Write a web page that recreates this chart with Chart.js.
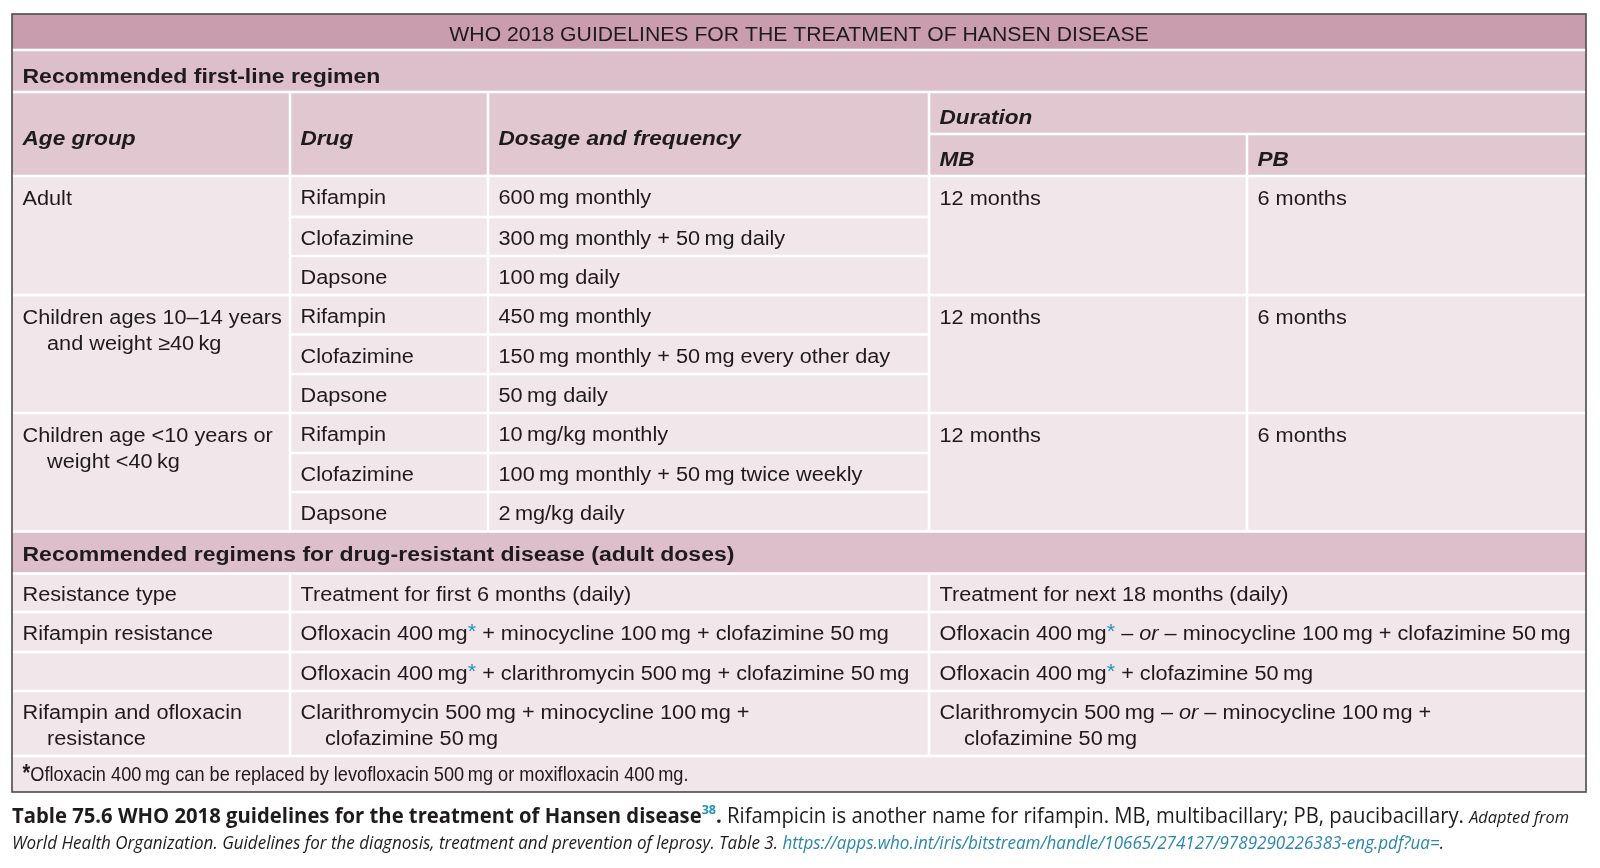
<!DOCTYPE html>
<html><head><meta charset="utf-8">
<script src="https://cdn.jsdelivr.net/npm/chart.js@4.4.1/dist/chart.umd.min.js"></script>
<style>html,body{margin:0;padding:0;background:#fff;overflow:hidden}canvas{display:block}</style>
</head><body><canvas id="c" width="1600" height="868"></canvas>
<script>
// ---------------- DATA ----------------
const tableTitle = "WHO 2018 GUIDELINES FOR THE TREATMENT OF HANSEN DISEASE";
const section1Label = "Recommended first-line regimen";
const headerLabels = ["Age group", "Drug", "Dosage and frequency"];
const durationLabel = "Duration";
const durationSubLabels = ["MB", "PB"];
const ageGroups = ["Adult", "Children ages 10–14 years\nand weight ≥40 kg", "Children age <10 years or\nweight <40 kg"];
const drugs = ["Rifampin", "Clofazimine", "Dapsone"];
const dosages = [
  ["600 mg monthly", "300 mg monthly + 50 mg daily", "100 mg daily"],
  ["450 mg monthly", "150 mg monthly + 50 mg every other day", "50 mg daily"],
  ["10 mg/kg monthly", "100 mg monthly + 50 mg twice weekly", "2 mg/kg daily"]
];
const durationMB = ["12 months", "12 months", "12 months"];
const durationPB = ["6 months", "6 months", "6 months"];
const section2Label = "Recommended regimens for drug-resistant disease (adult doses)";
const resistanceHeader = ["Resistance type", "Treatment for first 6 months (daily)", "Treatment for next 18 months (daily)"];
const resistanceTypes = ["Rifampin resistance", "", "Rifampin and ofloxacin\nresistance"];
const firstSixMonths = [
  "Ofloxacin 400 mg* + minocycline 100 mg + clofazimine 50 mg",
  "Ofloxacin 400 mg* + clarithromycin 500 mg + clofazimine 50 mg",
  "Clarithromycin 500 mg + minocycline 100 mg +\nclofazimine 50 mg"
];
const nextEighteenMonths = [
  "Ofloxacin 400 mg* – _or_ – minocycline 100 mg + clofazimine 50 mg",
  "Ofloxacin 400 mg* + clofazimine 50 mg",
  "Clarithromycin 500 mg – _or_ – minocycline 100 mg +\nclofazimine 50 mg"
];
const footnoteText = "*Ofloxacin 400 mg can be replaced by levofloxacin 500 mg or moxifloxacin 400 mg.";
const captionLine1 = [
  ["Table 75.6 WHO 2018 guidelines for the treatment of Hansen disease", "capBold"],
  ["38", "capSup"],
  [". ", "capBold"],
  ["Rifampicin is another name for rifampin. MB, multibacillary; PB, paucibacillary. ", "cap"],
  ["Adapted from", "capItalSmall"]
];
const captionLine2 = [
  ["World Health Organization. Guidelines for the diagnosis, treatment and prevention of leprosy. Table 3. ", "capItal"],
  ["https://apps.who.int/iris/bitstream/handle/10665/274127/9789290226383-eng.pdf?ua=", "capLink"],
  [".", "capItal"]
];

// ---------------- LAYOUT & STYLE ----------------
const LAYOUT = {
  cols: [12, 290, 488, 929, 1247, 1586],
  top: 14, titleBottom: 50, sec1Bottom: 92, headMid: 134, headBottom: 176,
  body: [176, 217, 256, 295, 334.5, 374, 413, 453, 492, 531.5],
  sec2Bottom: 573.5,
  res: [573.5, 612, 652, 691, 756],
  bottom: 792,
  padX: 10.5, indent: 24.5, lineGap: 26.5, gap: 2.6, thin: 0.2,
  cap1Y: 823, cap2Y: 848.5, capX: 12, cap1W: 1557, cap2W: 1432, footW: 666
};
const COLORS = {
  title: '#c99cae', section: '#dcbfcb', header: '#e0c7d0', body: '#f1e6ea',
  border: '#4d4a4b', text: '#1f1b1c', accent: '#1f93b8', link: '#2a86ad'
};
const FONT = "'Liberation Sans', Arial, sans-serif";
const CAPFONT = "'Open Sans', sans-serif";
const STYLES = {
  title: { font: `20px ${FONT}`, sx: 1.06, size: 20 },
  section: { font: `bold 20px ${FONT}`, sx: 1.15, size: 20 },
  head: { font: `italic bold 20px ${FONT}`, sx: 1.13, size: 20 },
  body: { font: `20px ${FONT}`, sx: 1.085, size: 20 },
  bodyItal: { font: `italic 20px ${FONT}`, size: 20 },
  foot: { font: `21px ${FONT}`, sx: 1, size: 21 },
  footStar: { font: `bold 23px ${FONT}`, size: 23, rise: 0 },
  capBold: { font: `bold 21px ${CAPFONT}`, size: 21 },
  capSup: { font: `bold 13px ${CAPFONT}`, color: COLORS.accent, rise: 9, size: 13 },
  cap: { font: `21px ${CAPFONT}`, size: 21 },
  capItalSmall: { font: `italic 17px ${CAPFONT}`, size: 17 },
  capItal: { font: `italic 17.5px ${CAPFONT}`, size: 17.5 },
  capLink: { font: `italic 17.5px ${CAPFONT}`, color: COLORS.link, size: 17.5 }
};

const fix = s => s.replace(/(\d) (mg|kg)/g, '$1\u2009$2');

function parseRuns(line, base, markup) {
  line = fix(line);
  if (base === 'foot' && line[0] === '*') return [['*', 'footStar'], [line.slice(1), base]];
  if (!markup) return [[line, base]];
  const out = [];
  line.split(/(\*|_[^_]+_)/).forEach(tok => {
    if (!tok) return;
    if (tok === '*') out.push([tok, 'star']);
    else if (tok[0] === '_') out.push([tok.slice(1, -1), 'ital']);
    else out.push([tok, base]);
  });
  return out;
}

function runStyle(name, base) {
  if (name === 'star') return { font: STYLES[base].font, color: COLORS.accent, rise: 2, size: STYLES[base].size };
  if (name === 'ital') return STYLES.bodyItal;
  return STYLES[name];
}

// text width with thin spaces rendered as a fixed narrow gap
function textW(ctx, t, st) {
  const parts = t.split('\u2009');
  let w = 0;
  parts.forEach((p, i) => { w += ctx.measureText(p).width; if (i) w += st.size * LAYOUT.thin; });
  return w;
}
function textDraw(ctx, t, st, x, y) {
  const parts = t.split('\u2009');
  let cx = x;
  parts.forEach((p, i) => {
    if (i) cx += st.size * LAYOUT.thin;
    ctx.fillText(p, cx, y);
    cx += ctx.measureText(p).width;
  });
  return cx - x;
}

function drawRuns(ctx, runs, x, y, sx, base, align, fitW) {
  let w = 0;
  runs.forEach(([t, s]) => { const st = runStyle(s, base); ctx.font = st.font; w += textW(ctx, t, st); });
  if (fitW) sx = fitW / w;
  const tw = w * sx;
  const start = align === 'center' ? x - tw / 2 : x;
  ctx.save();
  ctx.translate(start, y);
  ctx.scale(sx, 1);
  let cx = 0;
  runs.forEach(([t, s]) => {
    const st = runStyle(s, base);
    ctx.font = st.font;
    ctx.fillStyle = st.color || COLORS.text;
    cx += textDraw(ctx, t, st, cx, -(st.rise || 0));
  });
  ctx.restore();
}

// ---------------- CELL MODEL (built from data) ----------------
function buildCells() {
  const C = LAYOUT.cols, L = LAYOUT, cells = [];
  const add = (c0, c1, y0, y1, fill, text, style, base, opts) =>
    cells.push(Object.assign({ x0: C[c0], x1: C[c1], y0, y1, fill, text, style, base }, opts || {}));
  add(0, 5, L.top, L.titleBottom, COLORS.title, tableTitle, 'title', 40.5, { align: 'center' });
  add(0, 5, L.titleBottom, L.sec1Bottom, COLORS.section, section1Label, 'section', 82.5);
  headerLabels.forEach((h, i) => add(i, i + 1, L.sec1Bottom, L.headBottom, COLORS.header, h, 'head', 145));
  add(3, 5, L.sec1Bottom, L.headMid, COLORS.header, durationLabel, 'head', 123.5);
  durationSubLabels.forEach((h, i) => add(3 + i, 4 + i, L.headMid, L.headBottom, COLORS.header, h, 'head', 166));
  ageGroups.forEach((g, gi) => {
    const r0 = L.body[gi * 3], r3 = L.body[gi * 3 + 3];
    add(0, 1, r0, r3, COLORS.body, g, 'body', r0 + 28.5);
    drugs.forEach((d, k) => {
      const a = L.body[gi * 3 + k], b = L.body[gi * 3 + k + 1];
      add(1, 2, a, b, COLORS.body, d, 'body', a + 28);
      add(2, 3, a, b, COLORS.body, dosages[gi][k], 'body', a + 28);
    });
    add(3, 4, r0, r3, COLORS.body, durationMB[gi], 'body', r0 + 28.5);
    add(4, 5, r0, r3, COLORS.body, durationPB[gi], 'body', r0 + 28.5);
  });
  add(0, 5, L.body[9], L.sec2Bottom, COLORS.section, section2Label, 'section', 561);
  const R = L.res;
  add(0, 1, R[0], R[1], COLORS.body, resistanceHeader[0], 'body', R[0] + 27.5);
  add(1, 3, R[0], R[1], COLORS.body, resistanceHeader[1], 'body', R[0] + 27.5);
  add(3, 5, R[0], R[1], COLORS.body, resistanceHeader[2], 'body', R[0] + 27.5);
  resistanceTypes.forEach((t, i) => {
    const a = R[i + 1], b = R[i + 2];
    add(0, 1, a, b, COLORS.body, t, 'body', a + 27.5);
    add(1, 3, a, b, COLORS.body, firstSixMonths[i], 'body', a + 27.5, { markup: true });
    add(3, 5, a, b, COLORS.body, nextEighteenMonths[i], 'body', a + 27.5, { markup: true });
  });
  add(0, 5, R[4], L.bottom, COLORS.body, footnoteText, 'foot', R[4] + 25, { fitW: L.footW });
  return cells;
}

// ---------------- PLUGIN: draws the table through the chart scales ----------------
const tablePlugin = {
  id: 'tablePlugin',
  beforeDraw(chart) {
    const ctx = chart.ctx;
    ctx.save(); ctx.fillStyle = '#fff'; ctx.fillRect(0, 0, chart.width, chart.height); ctx.restore();
  },
  afterDraw(chart) {
    const ctx = chart.ctx, xs = chart.scales.x, ys = chart.scales.y, L = LAYOUT;
    const px = v => xs.getPixelForValue(v), py = v => ys.getPixelForValue(v);
    const cells = buildCells();
    const X0 = L.cols[0], X1 = L.cols[5], Y0 = L.top, Y1 = L.bottom, g = L.gap / 2;
    ctx.save();
    ctx.fillStyle = '#ffffff';
    ctx.fillRect(px(X0), py(Y0), px(X1) - px(X0), py(Y1) - py(Y0));
    cells.forEach(c => {
      const l = c.x0 === X0 ? c.x0 : c.x0 + g, r = c.x1 === X1 ? c.x1 : c.x1 - g;
      const t = c.y0 === Y0 ? c.y0 : c.y0 + g, b = c.y1 === Y1 ? c.y1 : c.y1 - g;
      ctx.fillStyle = c.fill;
      ctx.fillRect(px(l), py(t), px(r) - px(l), py(b) - py(t));
    });
    ctx.textBaseline = 'alphabetic';
    cells.forEach(c => {
      if (!c.text) return;
      const st = STYLES[c.style];
      c.text.split('\n').forEach((line, li) => {
        const runs = parseRuns(line, c.style, c.markup);
        const y = py(c.base + li * L.lineGap);
        if (c.align === 'center') drawRuns(ctx, runs, px((c.x0 + c.x1) / 2), y, st.sx, c.style, 'center');
        else drawRuns(ctx, runs, px(c.x0 + L.padX + (li ? L.indent : 0)), y, st.sx, c.style, 'left', c.fitW);
      });
    });
    ctx.strokeStyle = COLORS.border;
    ctx.lineWidth = 1.6;
    ctx.strokeRect(px(X0), py(Y0), px(X1) - px(X0), py(Y1) - py(Y0));
    // caption
    drawRuns(ctx, captionLine1, px(L.capX), py(L.cap1Y), 1, 'cap', 'left', L.cap1W);
    drawRuns(ctx, captionLine2, px(L.capX), py(L.cap2Y), 1, 'cap', 'left', L.cap2W);
    ctx.restore();
  }
};

new Chart(document.getElementById('c'), {
  type: 'scatter',
  data: { datasets: [{ data: [] }] },
  options: {
    responsive: false, animation: false, devicePixelRatio: 1,
    layout: { padding: 0 },
    plugins: { legend: { display: false }, tooltip: { enabled: false } },
    scales: {
      x: { type: 'linear', min: 0, max: 1600, display: false },
      y: { type: 'linear', min: 0, max: 868, reverse: true, display: false }
    }
  },
  plugins: [tablePlugin]
});
</script>
</body></html>
